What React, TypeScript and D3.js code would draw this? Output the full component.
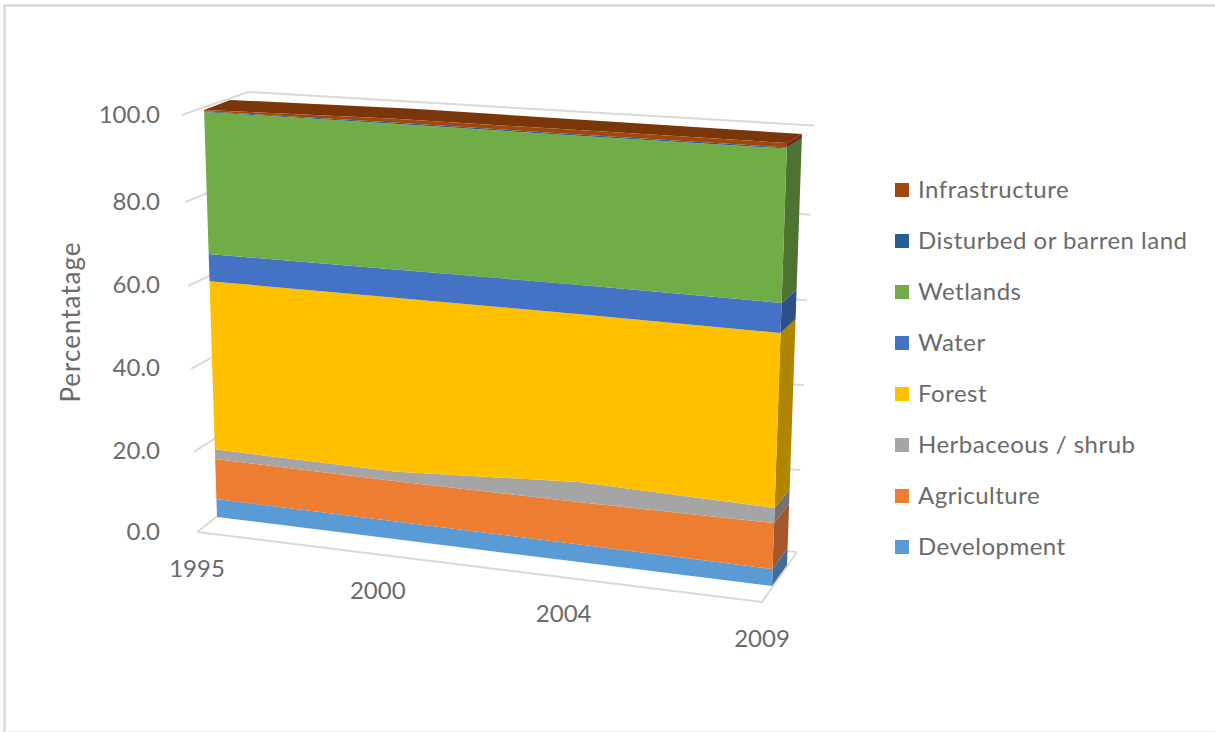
import React from "react";
import * as d3 from "d3";

// Land cover share by year, stacked bottom to top.
const years = ["1995", "2000", "2004", "2009"];
const seriesNames = ["Development", "Agriculture", "Herbaceous / shrub", "Forest", "Water", "Wetlands", "Disturbed or barren land", "Infrastructure"];
const development = [4.39, 4.23, 4.06, 3.84];
const agriculture = [9.76, 9.57, 9.8, 10.36];
const herbaceous = [2.35, 2.25, 4.64, 3.4];
const forest = [41.0, 41.42, 38.87, 39.5];
const water = [6.65, 6.68, 6.79, 6.8];
const wetlands = [34.65, 34.65, 34.54, 34.85];
const disturbed = [0.15, 0.3, 0.3, 0.25];
const infrastructure = [0.32, 0.9, 1.0, 1.0];
const valueTicks = [0, 20, 40, 60, 80, 100];

const frontColors = ["#5b9bd5", "#ed7d31", "#a5a5a5", "#ffc000", "#4472c4", "#70ad47", "#255e91", "#9e480e"];
const sideColors = ["#3f6d97", "#a4572a", "#737373", "#b08600", "#2f4f89", "#4c7330", "#1a4165", "#6e320a"];
const topColor = "#7a3608";
const gridColor = "#d9d9d9";
const textColor = "#6a6a6a";
const fontFamily = "Lato, 'Noto Sans', sans-serif";

type Pt = [number, number];
interface Plane { bl: Pt; tl: Pt; br: Pt; tr: Pt }

// Planes of the 3D box as they appear on screen.
const frontPlane: Plane = { bl: [217, 517], tl: [204, 107], br: [772, 586], tr: [787, 143] };
const depthPlane: Plane = { bl: [232, 496], tl: [230, 97], br: [787, 565], tr: [802, 134] };
const wallPlane: Plane = { bl: [236, 502], tl: [248, 92], br: [797, 552], tr: [814, 125.5] };
const outerFloorLeft: Pt = [197, 532];
const outerTopLeft: Pt = [182, 115];
const outerFloorFront: Pt = [762, 602];

const yearFraction = d3.scaleLinear().domain([0, 1, 2, 3]).range([0, 0.32, 0.649, 1]);
const valueFraction = d3.scaleLinear().domain([0, 100]).range([0, 1]);
// Gridlines bunch slightly toward the floor under the perspective of the walls.
const gridFraction = d3.scaleLinear().domain(valueTicks).range([0, 0.192, 0.391, 0.59, 0.791, 1]);
const mix = (a: Pt, b: Pt, f: number): Pt => [a[0] + (b[0] - a[0]) * f, a[1] + (b[1] - a[1]) * f];

function projectAt(p: Plane, t: number, vf: number): Pt {
  return mix(mix(p.bl, p.tl, vf), mix(p.br, p.tr, vf), yearFraction(t));
}
const project = (p: Plane, t: number, v: number): Pt => projectAt(p, t, valueFraction(v));

const rows = years.map((year, i) => ({
  year,
  Development: development[i],
  Agriculture: agriculture[i],
  "Herbaceous / shrub": herbaceous[i],
  Forest: forest[i],
  Water: water[i],
  Wetlands: wetlands[i],
  "Disturbed or barren land": disturbed[i],
  Infrastructure: infrastructure[i],
}));
const layers = d3.stack<any>().keys(seriesNames)(rows);
const polygon = d3.line<Pt>().curve(d3.curveLinearClosed);
const segment = d3.line<Pt>();
const last = years.length - 1;

const legendY = d3.scalePoint<string>().domain([...seriesNames].reverse()).range([190.5, 547.5]);

export default function App() {
  const topValue = (t: number) => layers[layers.length - 1][t][1];
  const topFace: Pt[] = [
    ...years.map((_, t) => project(frontPlane, t, topValue(t))),
    ...years.map((_, t) => project(depthPlane, last - t, topValue(last - t))),
  ];
  return (
    <svg width={1215} height={732} style={{ position: "absolute", left: 0, top: 0, background: "#fff" }} fontFamily={fontFamily}>
      {/* Frame of the chart area */}
      <path d="M4.5 732V5.5H1215" fill="none" stroke={gridColor} strokeWidth={2.5} />
      <path d="M5 731.5H1215" fill="none" stroke="#f2f2f2" strokeWidth={1} />

      {/* Side wall and back wall gridlines */}
      <g fill="none" stroke={gridColor} strokeWidth={2}>
        {valueTicks.map((v) => {
          const vf = gridFraction(v);
          const outer = mix(outerFloorLeft, outerTopLeft, vf);
          return (
            <path key={v} d={segment([outer, projectAt(wallPlane, 0, vf), projectAt(wallPlane, last, vf)]) as string} />
          );
        })}
        <path d={segment([outerFloorLeft, outerFloorFront, project(wallPlane, last, 0)]) as string} />
      </g>

      {/* Top and right faces of the stack */}
      <path d={polygon(topFace) as string} fill={topColor} />
      {layers.map((layer, i) => {
        const [lo, hi] = layer[last];
        return (
          <path
            key={seriesNames[i]}
            d={polygon([project(frontPlane, last, lo), project(depthPlane, last, lo), project(depthPlane, last, hi), project(frontPlane, last, hi)]) as string}
            fill={sideColors[i]}
          />
        );
      })}

      {/* Front faces of the stack */}
      {layers.map((layer, i) => {
        const upper = layer.map((d, t) => project(frontPlane, t, d[1]));
        const lower = layer.map((d, t) => project(frontPlane, t, d[0])).reverse();
        return <path key={seriesNames[i]} d={polygon([...upper, ...lower]) as string} fill={frontColors[i]} />;
      })}

      {/* Value axis */}
      <g fontSize={24} fill={textColor} textAnchor="end">
        {valueTicks.map((v) => {
          const y = mix(outerFloorLeft, outerTopLeft, gridFraction(v))[1];
          return (
            <text key={v} x={160} y={y + 7.5}>
              {v.toFixed(1)}
            </text>
          );
        })}
      </g>
      <text transform="translate(80,322) rotate(-90)" fontSize={26} letterSpacing={1} fill={textColor} textAnchor="middle">
        Percentatage
      </text>

      {/* Year axis */}
      <g fontSize={24} fill={textColor} textAnchor="middle">
        {years.map((year, t) => {
          const p = mix(outerFloorLeft, outerFloorFront, yearFraction(t));
          return (
            <text key={year} x={p[0]} y={p[1] + 45}>
              {year}
            </text>
          );
        })}
      </g>

      {/* Legend */}
      <g fontSize={24} letterSpacing={0.5} fill={textColor}>
        {seriesNames.map((name, i) => {
          const y = legendY(name) as number;
          return (
            <g key={name}>
              <rect x={895} y={y - 7.5} width={14} height={14} fill={frontColors[i]} />
              <text x={918} y={y + 7.5}>{name}</text>
            </g>
          );
        })}
      </g>
    </svg>
  );
}
